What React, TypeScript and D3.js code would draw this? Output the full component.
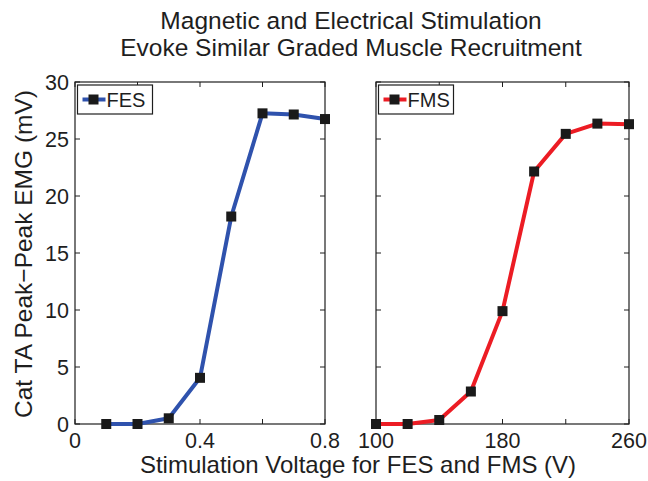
import { useEffect, useRef } from "react";
import * as d3 from "d3";

// FES panel (stimulation amplitude, V)
const fesVoltage = [0.1, 0.2, 0.3, 0.4, 0.5, 0.6, 0.7, 0.8];
const fesEmg = [0, 0, 0.5, 4.05, 18.2, 27.25, 27.15, 26.75];
const fesTicks = [0, 0.2, 0.4, 0.6, 0.8];
const fesTickLabels = ["0", "", "0.4", "", "0.8"];

// FMS panel
const fmsVoltage = [100, 120, 140, 160, 180, 200, 220, 240, 260];
const fmsEmg = [0, 0, 0.35, 2.85, 9.9, 22.15, 25.45, 26.35, 26.3];
const fmsTicks = [100, 140, 180, 220, 260];
const fmsTickLabels = ["100", "", "180", "", "260"];

const yTicks = [0, 5, 10, 15, 20, 25, 30];

const W = 648;
const H = 481;
const FONT = "Liberation Sans, Arial, Helvetica, sans-serif";
const INK = "#1e1e1e";

export default function App() {
  const svgRef = useRef<SVGSVGElement | null>(null);

  useEffect(() => {
    const svg = d3.select(svgRef.current);
    svg.selectAll("*").remove();

    const top = 82;
    const bottom = 424;
    const y = d3.scaleLinear().domain([0, 30]).range([bottom, top]);

    const panels = [
      {
        name: "FES",
        xs: fesVoltage,
        ys: fesEmg,
        domain: [0, 0.8],
        range: [75, 325],
        ticks: fesTicks,
        labels: fesTickLabels,
        color: "#2f52ad",
        showY: true,
      },
      {
        name: "FMS",
        xs: fmsVoltage,
        ys: fmsEmg,
        domain: [100, 260],
        range: [376, 629],
        ticks: fmsTicks,
        labels: fmsTickLabels,
        color: "#ec1c24",
        showY: false,
      },
    ];

    panels.forEach((p) => {
      const x = d3.scaleLinear().domain(p.domain).range(p.range);
      const g = svg.append("g");
      const [x0, x1] = p.range;

      g.append("rect")
        .attr("x", x0)
        .attr("y", top)
        .attr("width", x1 - x0)
        .attr("height", bottom - top)
        .attr("fill", "none")
        .attr("stroke", INK)
        .attr("stroke-width", 1.2);

      // tick marks on all four sides (matlab style)
      const tl = 5;
      p.ticks.forEach((t, i) => {
        const xx = x(t);
        g.append("line").attr("x1", xx).attr("x2", xx).attr("y1", bottom).attr("y2", bottom - tl).attr("stroke", INK);
        g.append("line").attr("x1", xx).attr("x2", xx).attr("y1", top).attr("y2", top + tl).attr("stroke", INK);
        if (p.labels[i]) {
          g.append("text")
            .attr("x", xx)
            .attr("y", bottom + 24)
            .attr("text-anchor", "middle")
            .attr("font-family", FONT)
            .attr("font-size", 21.5)
            .attr("fill", INK)
            .text(p.labels[i]);
        }
      });
      yTicks.forEach((t) => {
        const yy = y(t);
        g.append("line").attr("x1", x0).attr("x2", x0 + tl).attr("y1", yy).attr("y2", yy).attr("stroke", INK);
        g.append("line").attr("x1", x1).attr("x2", x1 - tl).attr("y1", yy).attr("y2", yy).attr("stroke", INK);
        if (p.showY) {
          g.append("text")
            .attr("x", x0 - 6)
            .attr("y", yy + 7.5)
            .attr("text-anchor", "end")
            .attr("font-family", FONT)
            .attr("font-size", 21.5)
            .attr("fill", INK)
            .text(t);
        }
      });

      const pts = p.xs.map((v, i) => [v, p.ys[i]] as [number, number]);
      const line = d3
        .line<[number, number]>()
        .x((d) => x(d[0]))
        .y((d) => y(d[1]));

      g.append("path")
        .attr("d", line(pts))
        .attr("fill", "none")
        .attr("stroke", p.color)
        .attr("stroke-width", 4)
        .attr("stroke-linejoin", "round");

      const ms = 10;
      g.selectAll("rect.m")
        .data(pts)
        .enter()
        .append("rect")
        .attr("class", "m")
        .attr("x", (d) => x(d[0]) - ms / 2)
        .attr("y", (d) => y(d[1]) - ms / 2)
        .attr("width", ms)
        .attr("height", ms)
        .attr("fill", "#1a1a1a");

      // legend
      const lx = x0 + 2.5;
      const ly = top + 3;
      const lg = g.append("g");
      lg.append("rect")
        .attr("x", lx)
        .attr("y", ly)
        .attr("width", 75)
        .attr("height", 29)
        .attr("fill", "#fff")
        .attr("stroke", INK)
        .attr("stroke-width", 1.2);
      lg.append("line")
        .attr("x1", lx + 5)
        .attr("x2", lx + 28)
        .attr("y1", ly + 14.5)
        .attr("y2", ly + 14.5)
        .attr("stroke", p.color)
        .attr("stroke-width", 4);
      lg.append("rect")
        .attr("x", lx + 16 - ms / 2)
        .attr("y", ly + 14.5 - ms / 2)
        .attr("width", ms)
        .attr("height", ms)
        .attr("fill", "#1a1a1a");
      lg.append("text")
        .attr("x", lx + 29)
        .attr("y", ly + 22)
        .attr("font-family", FONT)
        .attr("font-size", 20)
        .attr("fill", INK)
        .text(p.name);
    });

    // titles & axis labels
    const title = ["Magnetic and Electrical Stimulation", "Evoke Similar Graded Muscle Recruitment"];
    title.forEach((t, i) => {
      svg.append("text")
        .attr("x", 351)
        .attr("y", 29 + i * 27)
        .attr("text-anchor", "middle")
        .attr("font-family", FONT)
        .attr("font-size", 24.5)
        .attr("fill", INK)
        .text(t);
    });

    svg.append("text")
      .attr("x", 358)
      .attr("y", 473)
      .attr("text-anchor", "middle")
      .attr("font-family", FONT)
      .attr("font-size", 24)
      .attr("fill", INK)
      .text("Stimulation Voltage for FES and FMS (V)");

    svg.append("text")
      .attr("transform", `translate(32,${(top + bottom) / 2 + 1}) rotate(-90)`)
      .attr("text-anchor", "middle")
      .attr("font-family", FONT)
      .attr("font-size", 24.5)
      .attr("fill", INK)
      .text("Cat TA Peak\u2212Peak EMG (mV)");
  }, []);

  return (
    <svg
      ref={svgRef}
      width={W}
      height={H}
      style={{ position: "absolute", left: 0, top: 0, background: "#fff" }}
    />
  );
}
